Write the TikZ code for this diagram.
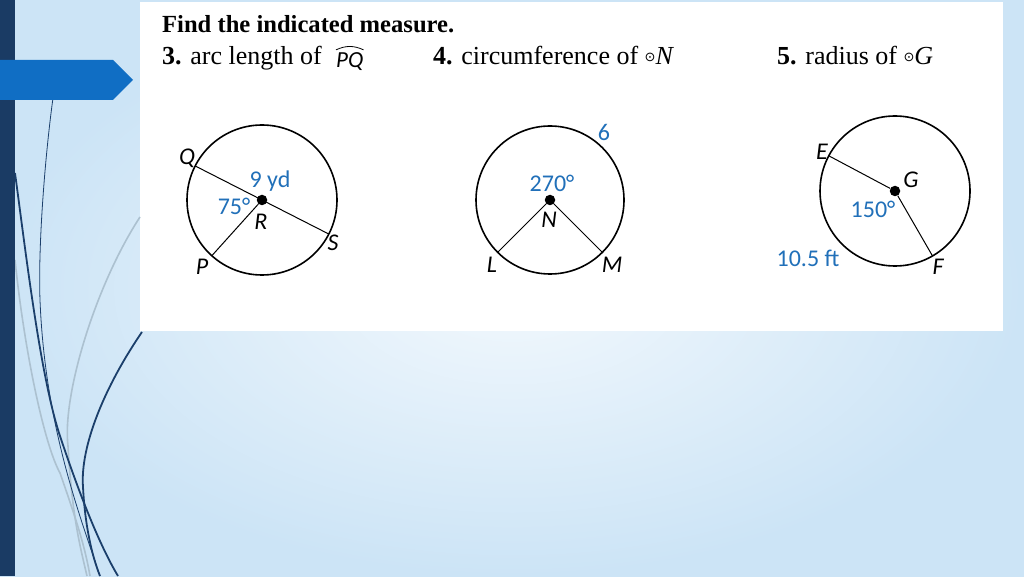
\documentclass[tikz,border=0pt]{standalone}
\usepackage{fontspec}
\setmainfont{Liberation Serif}
\newfontfamily\figfont{Carlito}
\newfontfamily\symfont{DejaVu Sans}
\usetikzlibrary{positioning,calc}

\definecolor{slidebar}{RGB}{26,59,100}
\definecolor{slidetab}{RGB}{16,110,196}
\definecolor{figblue}{RGB}{33,112,185}
\definecolor{curvedark}{RGB}{27,63,107}
\definecolor{curvegray}{RGB}{172,193,208}
\definecolor{bgblue}{RGB}{204,228,246}

\begin{document}
\begin{tikzpicture}[x=1pt, y=1pt,
  hdr/.style={anchor=base west, inner sep=0pt, font=\fontsize{26}{30}\selectfont},
  figlbl/.style={inner sep=0pt, text=figblue, font=\figfont\fontsize{24}{26}\selectfont},
  ptlbl/.style={inner sep=0pt, font=\figfont\itshape\fontsize{24}{26}\selectfont},
  rim/.style={line width=1.6pt},
  spoke/.style={line width=1pt},
  cdot/.style={circle, fill, inner sep=0pt, minimum size=10.5pt}]

% slide background
\useasboundingbox (0,0) rectangle (1024,576);
\shade[inner color=white!75!bgblue, outer color=bgblue] (0,0) rectangle (1024,576);
\fill[white] (140,245) rectangle (1003,574);

% decoration curves
\draw[curvegray, line width=1.6pt] (140,359) .. controls (95,290) and (62,180) .. (68,130) .. controls (72,60) and (80,30) .. (87,0);
\draw[curvegray, line width=1.6pt] (15,316) .. controls (25,220) and (45,130) .. (60,103) .. controls (75,60) and (85,30) .. (90,0);
\draw[curvedark, line width=0.8pt] (53,478) .. controls (45,420) and (38,330) .. (40,276) .. controls (45,150) and (80,60) .. (100,0);
\draw[curvedark, line width=1.8pt] (15,403) .. controls (25,330) and (40,200) .. (60,140) .. controls (80,80) and (100,30) .. (118,0);
\draw[curvedark, line width=1.8pt] (142,244) .. controls (105,190) and (80,130) .. (83,89) .. controls (85,50) and (92,20) .. (100,0);
\fill[slidebar] (0,0) rectangle (15,576);
\fill[slidetab] (0,476) -- (113,476) -- (133,496) -- (113,516) -- (0,516) -- cycle;

% heading
\node[hdr, font=\bfseries\fontsize{24.6}{30}\selectfont] (title) at (162,543) {Find the indicated measure.};
\node[hdr] (q3) at (162,511) {\textbf{3.} arc length of};
\node[ptlbl, anchor=base west, font=\figfont\itshape\fontsize{23}{24}\selectfont] (PQ) at (336,508) {PQ};
\draw[line width=0.8pt] ($(PQ.north west)+(0,3)$) to[bend left=25] ($(PQ.north east)+(0,3)$);
\node[hdr] (q4) at (433,511) {\textbf{4.} circumference of {\symfont\fontsize{13}{13}\selectfont\raisebox{3pt}{⊙}}\textit{N}};
\node[hdr] (q5) at (777,511) {\textbf{5.} radius of {\symfont\fontsize{13}{13}\selectfont\raisebox{3pt}{⊙}}\textit{G}};

% circle R
\node[cdot] (R) at (262,376) {};
\draw[rim] (R.center) circle (75);
\coordinate (Q) at ($(R.center)+(153:75)$);
\coordinate (S) at ($(R.center)+(-27:75)$);
\coordinate (P) at ($(R.center)+(228:75)$);
\draw[spoke] (Q) -- (S);
\draw[spoke] (R) -- (P);
\node[ptlbl] (lQ) at (187,418) {Q};
\node[ptlbl] (lR) at (261,354) {R};
\node[ptlbl] (lS) at (333,333) {S};
\node[ptlbl] (lP) at (202,309) {P};
\node[figlbl] (yd) at (270,395) {9 yd};
\node[figlbl] (a75) at (234,370) {75°};

% circle N
\node[cdot] (N) at (550,376) {};
\draw[rim] (N.center) circle (74);
\coordinate (L) at ($(N.center)+(225:74)$);
\coordinate (M) at ($(N.center)+(-45:74)$);
\draw[spoke] (N) -- (L);
\draw[spoke] (N) -- (M);
\node[figlbl] (six) at (604,444) {6};
\node[figlbl] (a270) at (552,393) {270°};
\node[ptlbl] (lN) at (549,356) {N};
\node[ptlbl] (lL) at (492,311) {L};
\node[ptlbl] (lM) at (612,311) {M};

% circle G
\node[cdot] (G) at (895,385) {};
\draw[rim] (G.center) circle (75);
\coordinate (E) at ($(G.center)+(152:75)$);
\coordinate (F) at ($(G.center)+(-60:75)$);
\draw[spoke] (G) -- (E);
\draw[spoke] (G) -- (F);
\node[ptlbl] (lE) at (822,424) {E};
\node[ptlbl] (lG) at (911,396) {G};
\node[ptlbl] (lF) at (938,309) {F};
\node[figlbl] (a150) at (873,367) {150°};
\node[figlbl] (ft) at (808,318) {10.5 ft};

\end{tikzpicture}
\end{document}
